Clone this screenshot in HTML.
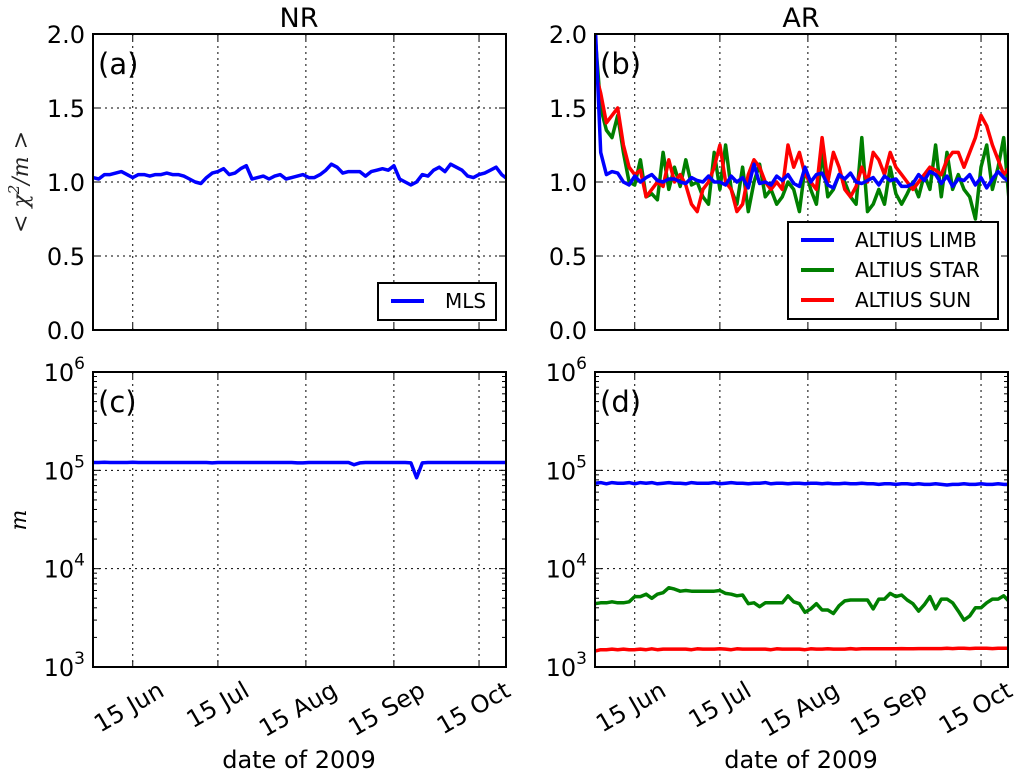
<!DOCTYPE html>
<html><head><meta charset="utf-8"><style>
body{margin:0;background:#fff}
svg{display:block;font-family:"DejaVu Sans","Liberation Sans",sans-serif}
</style></head><body>
<svg id="fig" width="1021" height="773" viewBox="0 0 1021 773"></svg>
<script>
const days = [];
for (let d = 152; d <= 298; d += 2) days.push(d);
const tickDays = [166, 196, 227, 258, 288];
const tickLabels = ["15 Jun", "15 Jul", "15 Aug", "15 Sep", "15 Oct"];
const chiTicks = [0.0, 0.5, 1.0, 1.5, 2.0];
const mlsChi = [1.03,1.02,1.05,1.05,1.06,1.07,1.05,1.03,1.05,1.05,1.04,1.05,1.05,1.06,1.05,1.05,1.04,1.02,1.00,0.99,1.03,1.06,1.07,1.09,1.05,1.06,1.09,1.11,1.02,1.03,1.04,1.02,1.04,1.05,1.02,1.03,1.04,1.05,1.03,1.03,1.05,1.08,1.12,1.10,1.06,1.07,1.07,1.07,1.04,1.07,1.08,1.09,1.08,1.11,1.02,1.00,0.98,1.00,1.05,1.04,1.08,1.10,1.07,1.12,1.10,1.08,1.04,1.03,1.05,1.06,1.08,1.10,1.05,1.02];
const limbChi = [2.1,1.2,1.05,1.07,1.06,1.0,0.98,1.04,1.0,1.03,1.05,1.01,1.0,1.02,1.02,1.0,0.99,1.03,1.01,1.0,1.04,1.0,1.0,0.98,1.04,1.0,1.03,0.96,1.12,0.99,1.0,0.98,1.04,1.01,1.05,0.99,0.97,1.1,1.0,1.05,1.06,0.98,0.96,1.05,1.02,1.06,1.0,0.99,1.01,1.03,0.98,1.04,1.01,1.02,0.97,0.97,0.99,1.05,1.01,1.07,1.05,0.99,1.04,0.97,1.02,1.01,1.05,0.98,1.03,0.96,1.02,1.07,1.03,1.0];
const starChi = [2.0,1.5,1.35,1.3,1.45,1.2,1.0,0.98,1.15,0.9,0.92,0.88,1.2,0.95,1.1,0.97,1.15,0.98,1.0,0.9,0.85,1.2,0.95,1.25,0.95,0.85,1.1,0.8,1.0,1.12,0.9,0.95,0.85,0.9,1.0,0.95,0.8,1.1,0.95,0.85,1.2,0.9,0.95,1.05,1.0,0.9,0.85,1.3,0.8,0.85,0.95,0.85,1.1,0.92,0.85,0.92,1.0,0.9,1.05,0.95,1.25,0.9,1.2,0.95,1.05,0.95,0.9,0.75,1.1,1.25,0.95,1.1,1.3,0.85];
const sunChi = [1.75,1.6,1.4,1.45,1.5,1.25,1.1,1.05,1.08,0.9,0.95,1.0,0.97,1.15,1.0,1.05,0.98,0.85,0.8,0.95,1.0,1.1,1.25,1.0,0.95,0.8,0.85,1.05,1.15,1.1,1.0,0.95,1.0,0.95,1.25,1.1,1.2,1.05,1.0,0.95,1.3,1.0,1.2,1.1,0.95,0.9,0.97,1.1,1.0,1.2,1.15,1.05,1.2,1.1,1.05,1.0,0.95,1.0,1.05,1.1,1.08,1.05,1.15,1.2,1.2,1.1,1.2,1.3,1.45,1.38,1.25,1.15,1.05,1.1];
const mlsM = [1.2e5,1.2e5,1.21e5,1.2e5,1.2e5,1.2e5,1.2e5,1.21e5,1.2e5,1.2e5,1.2e5,1.2e5,1.2e5,1.2e5,1.2e5,1.2e5,1.2e5,1.2e5,1.2e5,1.2e5,1.2e5,1.19e5,1.2e5,1.2e5,1.2e5,1.2e5,1.2e5,1.2e5,1.2e5,1.2e5,1.2e5,1.2e5,1.2e5,1.2e5,1.2e5,1.2e5,1.19e5,1.19e5,1.2e5,1.2e5,1.2e5,1.2e5,1.2e5,1.2e5,1.2e5,1.2e5,1.14e5,1.19e5,1.2e5,1.2e5,1.2e5,1.2e5,1.2e5,1.2e5,1.2e5,1.2e5,1.19e5,8.4e4,1.19e5,1.2e5,1.2e5,1.2e5,1.2e5,1.2e5,1.2e5,1.2e5,1.2e5,1.2e5,1.2e5,1.2e5,1.2e5,1.2e5,1.2e5,1.2e5];
const limbM = [7.4e4,7.5e4,7.3e4,7.5e4,7.4e4,7.4e4,7.5e4,7.3e4,7.5e4,7.4e4,7.5e4,7.3e4,7.4e4,7.5e4,7.4e4,7.4e4,7.3e4,7.5e4,7.4e4,7.4e4,7.4e4,7.5e4,7.3e4,7.4e4,7.5e4,7.4e4,7.4e4,7.3e4,7.4e4,7.4e4,7.5e4,7.3e4,7.4e4,7.4e4,7.3e4,7.4e4,7.4e4,7.3e4,7.4e4,7.4e4,7.3e4,7.4e4,7.3e4,7.3e4,7.4e4,7.3e4,7.3e4,7.4e4,7.3e4,7.3e4,7.2e4,7.3e4,7.3e4,7.2e4,7.3e4,7.3e4,7.2e4,7.3e4,7.2e4,7.2e4,7.3e4,7.2e4,7.1e4,7.2e4,7.2e4,7.3e4,7.2e4,7.2e4,7.3e4,7.2e4,7.2e4,7.3e4,7.2e4,7.2e4];
const starM = [4.4e3,4.5e3,4.5e3,4.6e3,4.5e3,4.5e3,4.6e3,5.2e3,5.2e3,5.5e3,5.0e3,5.5e3,5.7e3,6.4e3,6.2e3,5.9e3,6.0e3,5.9e3,5.9e3,5.9e3,5.9e3,5.9e3,6.0e3,5.6e3,5.5e3,5.3e3,5.4e3,4.4e3,4.5e3,4.1e3,4.5e3,4.5e3,4.5e3,4.5e3,5.3e3,4.6e3,4.4e3,3.6e3,3.9e3,4.4e3,3.8e3,3.8e3,3.5e3,4.2e3,4.7e3,4.8e3,4.8e3,4.8e3,4.8e3,3.9e3,4.9e3,4.9e3,5.6e3,5.2e3,5.4e3,4.8e3,4.4e3,3.7e3,4.3e3,5.2e3,3.9e3,4.9e3,4.9e3,4.5e3,3.7e3,3.0e3,3.3e3,4.0e3,4.0e3,4.5e3,4.9e3,4.9e3,5.3e3,4.6e3];
const sunM = [1.45e3,1.5e3,1.5e3,1.52e3,1.5e3,1.52e3,1.5e3,1.5e3,1.52e3,1.5e3,1.53e3,1.5e3,1.52e3,1.52e3,1.52e3,1.52e3,1.52e3,1.5e3,1.53e3,1.52e3,1.52e3,1.52e3,1.53e3,1.52e3,1.5e3,1.53e3,1.52e3,1.52e3,1.52e3,1.52e3,1.52e3,1.5e3,1.53e3,1.52e3,1.52e3,1.52e3,1.52e3,1.5e3,1.53e3,1.52e3,1.52e3,1.53e3,1.52e3,1.52e3,1.52e3,1.54e3,1.52e3,1.53e3,1.53e3,1.53e3,1.53e3,1.53e3,1.53e3,1.53e3,1.54e3,1.53e3,1.53e3,1.54e3,1.54e3,1.54e3,1.54e3,1.54e3,1.55e3,1.54e3,1.55e3,1.55e3,1.54e3,1.55e3,1.55e3,1.55e3,1.54e3,1.55e3,1.55e3,1.55e3];

const NS = "http://www.w3.org/2000/svg";
const svg = document.getElementById('fig');
function mk(tag, attrs, parent) {
  const e = document.createElementNS(NS, tag);
  for (const k in attrs) e.setAttribute(k, attrs[k]);
  (parent || svg).appendChild(e);
  return e;
}
const X0 = 152, X1 = 297.5;
const panels = {
  a: {l: 93, r: 506, t: 34, b: 330},
  b: {l: 595, r: 1008, t: 34, b: 330},
  c: {l: 93, r: 506, t: 372, b: 667},
  d: {l: 595, r: 1008, t: 372, b: 667}
};
function xs(p, d) { return p.l + (d - X0) / (X1 - X0) * (p.r - p.l); }
function ylin(p, v) { return p.b - v / 2 * (p.b - p.t); }
function ylog(p, v) { return p.b - (Math.log10(v) - 3) / 3 * (p.b - p.t); }

function frame(key, isLog, showX) {
  const p = panels[key];
  const g = mk('g', {});
  
  
  const clip = mk('clipPath', {id: 'clip-' + key}, g);
  mk('rect', {x: p.l, y: p.t, width: p.r - p.l, height: p.b - p.t}, clip);
  tickDays.forEach((d, i) => {
    const x = xs(p, d);
    const gl = mk('line', {x1: x, x2: x, y1: p.t, y2: p.b, stroke: '#000', 'stroke-width': 1, 'stroke-dasharray': '2,4'}, g);
    
    
    mk('line', {x1: x, x2: x, y1: p.b, y2: p.b - 6, stroke: '#000', 'stroke-width': 1}, g);
    mk('line', {x1: x, x2: x, y1: p.t, y2: p.t + 6, stroke: '#000', 'stroke-width': 1}, g);
    if (showX) {
      const t = mk('text', {x: 0, y: 0, 'font-size': 24, 'text-anchor': 'end', transform: `translate(${x + 33},${p.b + 28}) rotate(-30)`}, g);
      t.textContent = tickLabels[i];
      
      
    }
  });
  const yvals = isLog ? [1e3, 1e4, 1e5, 1e6] : chiTicks;
  yvals.forEach((v, i) => {
    const y = isLog ? ylog(p, v) : ylin(p, v);
    if (i > 0 && i < yvals.length - 1) {
      const gl = mk('line', {x1: p.l, x2: p.r, y1: y, y2: y, stroke: '#000', 'stroke-width': 1, 'stroke-dasharray': '2,4'}, g);
      
      
    }
    mk('line', {x1: p.l, x2: p.l + 7, y1: y, y2: y, stroke: '#000'}, g);
    mk('line', {x1: p.r, x2: p.r - 7, y1: y, y2: y, stroke: '#000'}, g);
    const t = mk('text', {x: p.l - 8, y: y + 9, 'font-size': 24, 'text-anchor': 'end'}, g);
    if (isLog) {
      t.textContent = '10';
      const s = mk('tspan', {dy: -12, 'font-size': 17}, t);
      s.textContent = String(Math.round(Math.log10(v)));
    } else t.textContent = v.toFixed(1);
    
    
  });
  if (isLog) {
    for (let e = 3; e < 6; e++) for (let m = 2; m < 10; m++) {
      const y = ylog(p, m * Math.pow(10, e));
      mk('line', {x1: p.l, x2: p.l + 4, y1: y, y2: y, stroke: '#000'}, g);
      mk('line', {x1: p.r, x2: p.r - 4, y1: y, y2: y, stroke: '#000'}, g);
    }
  }
  return {g, p};
}
function series(key, vals, color, isLog, name) {
  const p = panels[key];
  const pts = vals.map((v, i) => xs(p, days[i]).toFixed(1) + ',' + (isLog ? ylog(p, v) : ylin(p, v)).toFixed(1)).join(' ');
  const pl = mk('polyline', {points: pts, fill: 'none', stroke: color, 'stroke-width': 3.5, 'stroke-linejoin': 'round', 'clip-path': `url(#clip-${key})`});
  
  
}
function border(key) {
  const p = panels[key];
  const r = mk('rect', {x: p.l, y: p.t, width: p.r - p.l, height: p.b - p.t, fill: 'none', stroke: '#000', 'stroke-width': 2});
  
  
}
function label(key, txt) {
  const p = panels[key];
  const t = mk('text', {x: p.l + 5, y: p.t + 40, 'font-size': 29});
  t.textContent = txt;
  
  
}
frame('a', false, false); frame('b', false, false);
frame('c', true, true); frame('d', true, true);
series('a', mlsChi, '#0000ff', false, 'mls-chi-line');
series('b', starChi, '#007f00', false, 'star-chi-line');
series('b', sunChi, '#ff0000', false, 'sun-chi-line');
series('b', limbChi, '#0000ff', false, 'limb-chi-line');
series('c', mlsM, '#0000ff', true, 'mls-m-line');
series('d', limbM, '#0000ff', true, 'limb-m-line');
series('d', starM, '#007f00', true, 'star-m-line');
series('d', sunM, '#ff0000', true, 'sun-m-line');
['a','b','c','d'].forEach(k => { border(k); label(k, '(' + k + ')'); });

function legend(x, y, w, h, entries, nm) {
  const g = mk('g', {});
  
  
  mk('rect', {x, y, width: w, height: h, fill: '#fff', stroke: '#000', 'stroke-width': 2}, g);
  entries.forEach((e, i) => {
    const cy = y + 18 + i * 30;
    mk('line', {x1: x + 13, x2: x + 46, y1: cy, y2: cy, stroke: e[1], 'stroke-width': 4}, g);
    const t = mk('text', {x: x + 67, y: cy + 7, 'font-size': 20}, g);
    t.textContent = e[0];
    
    
  });
}
legend(378, 283, 118, 37, [['MLS', '#0000ff']], 'legend-nr');
legend(788, 222, 210, 97, [['ALTIUS LIMB', '#0000ff'], ['ALTIUS STAR', '#007f00'], ['ALTIUS SUN', '#ff0000']], 'legend-ar');

function txt(s, attrs, nm) {
  const t = mk('text', attrs);
  t.textContent = s;
  
  
  return t;
}
txt('NR', {x: 299, y: 27, 'font-size': 27, 'text-anchor': 'middle'}, 'title-nr');
txt('AR', {x: 801, y: 27, 'font-size': 27, 'text-anchor': 'middle'}, 'title-ar');
txt('date of 2009', {x: 299, y: 768, 'font-size': 24, 'text-anchor': 'middle'}, 'x-axis-title-left');
txt('date of 2009', {x: 801, y: 768, 'font-size': 24, 'text-anchor': 'middle'}, 'x-axis-title-right');
const yl = txt('', {x: 0, y: 0, 'font-size': 22, 'text-anchor': 'middle', 'font-family': '"DejaVu Serif","Liberation Serif",serif', 'font-style': 'italic', transform: 'translate(28,182) rotate(-90)', fill: '#222'}, 'y-axis-title-chi');
yl.textContent = '< χ';
const sup = mk('tspan', {dy: -9, 'font-size': 15}, yl); sup.textContent = '2';
const rest = mk('tspan', {dy: 9}, yl); rest.textContent = '/m >';
txt('m', {x: 0, y: 0, 'font-size': 22, 'text-anchor': 'middle', 'font-family': '"DejaVu Serif","Liberation Serif",serif', 'font-style': 'italic', transform: 'translate(26,520) rotate(-90)'}, 'y-axis-title-m');
</script>
</body></html>
